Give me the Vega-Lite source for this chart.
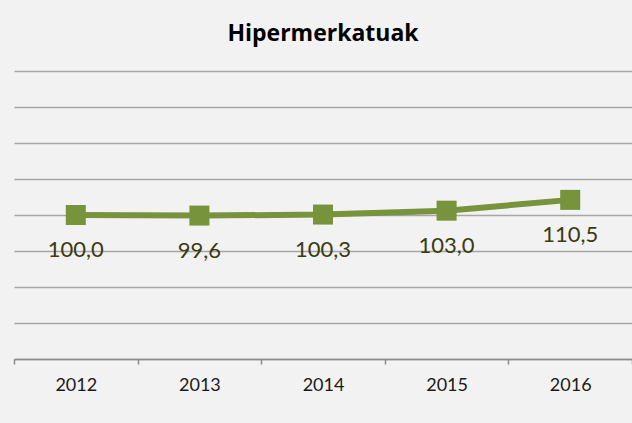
{
  "$schema": "https://vega.github.io/schema/vega-lite/v6.json",
  "width": 618,
  "height": 288,
  "autosize": {"type": "none"},
  "padding": {"left": 14, "top": 71, "right": 0, "bottom": 64},
  "background": "#f2f2f2",
  "title": {
    "text": "Hipermerkatuak",
    "font": "Open Sans",
    "fontSize": 23,
    "fontWeight": "bold",
    "color": "#000000",
    "offset": 25,
    "anchor": "middle",
    "frame": "group"
  },
  "data": {
    "values": [
      {"year": "2012", "value": 100.0, "label": "100,0"},
      {"year": "2013", "value": 99.6, "label": "99,6"},
      {"year": "2014", "value": 100.3, "label": "100,3"},
      {"year": "2015", "value": 103.0, "label": "103,0"},
      {"year": "2016", "value": 110.5, "label": "110,5"}
    ]
  },
  "encoding": {
    "x": {
      "field": "year",
      "type": "ordinal",
      "bandPosition": 0.5,
      "scale": {"type": "band", "paddingInner": 0, "paddingOuter": 0},
      "axis": {
        "title": null,
        "labelAngle": 0,
        "labelFont": "Lato",
        "labelFontSize": 18,
        "labelColor": "#1a1a1a",
        "labelPadding": 12,
        "tickBand": "extent",
        "tickSize": 5,
        "tickColor": "#8c8c8c",
        "tickWidth": 1.5,
        "domainColor": "#8c8c8c",
        "domainWidth": 1.5,
        "grid": false
      }
    },
    "y": {
      "field": "value",
      "type": "quantitative",
      "scale": {"domain": [0, 200]},
      "axis": {
        "title": null,
        "labels": false,
        "ticks": false,
        "domain": false,
        "values": [0, 25, 50, 75, 100, 125, 150, 175, 200],
        "grid": true,
        "gridColor": "#a6a6a6",
        "gridWidth": 1.3
      }
    }
  },
  "layer": [
    {"mark": {"type": "line", "color": "#77933c", "strokeWidth": 6}},
    {"mark": {"type": "point", "shape": "square", "filled": true, "opacity": 1, "color": "#77933c", "size": 400}},
    {
      "mark": {"type": "text", "dy": 35, "baseline": "middle", "align": "center", "font": "Lato", "fontSize": 22, "color": "#3b3a10"},
      "encoding": {"text": {"field": "label"}}
    }
  ],
  "config": {"view": {"stroke": null}}
}
